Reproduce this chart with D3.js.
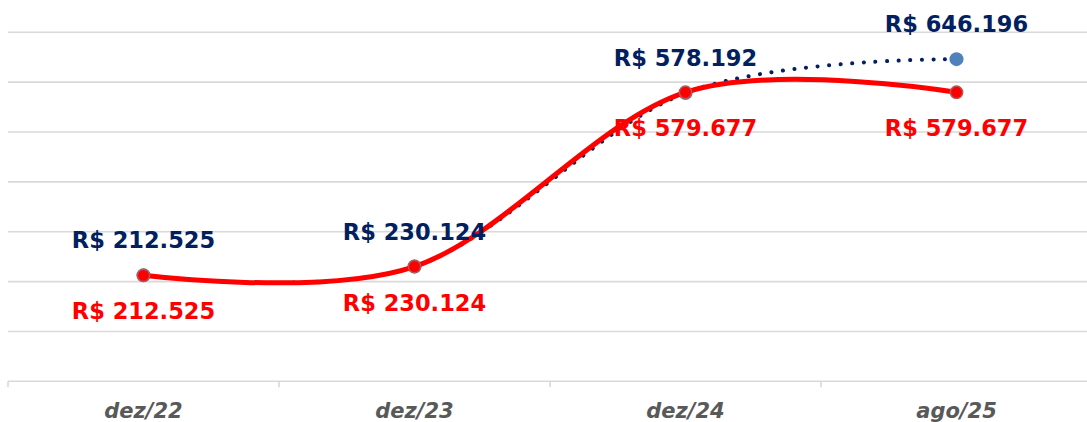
<!DOCTYPE html>
<html>
<head>
<meta charset="utf-8">
<script src="https://cdn.jsdelivr.net/npm/d3@7"></script>
<style>
  body { margin: 0; background: #fff; }
  svg { display: block; }
</style>
</head>
<body>
<script>
// chart data
var categories = ["dez/22", "dez/23", "dez/24", "ago/25"];
var realizado = [212525, 230124, 579677, 579677];   // red, solid
var projetado = [212525, 230124, 578192, 646196];   // navy, dotted
var yTicks = [0, 100000, 200000, 300000, 400000, 500000, 600000, 700000];

var w = 1087, h = 422;

var svg = d3.select("body").append("svg")
  .attr("width", w)
  .attr("height", h);

var x = d3.scaleBand()
  .domain(categories)
  .range([8, 1092]);

var y = d3.scaleLinear()
  .domain([0, 700000])
  .range([381.3, 32.3]);

var fmt = function(v) {  // brazilian style thousands
  return "R$ " + d3.format(",")(v).replace(/,/g, ".");
};

// gridlines
svg.append("g")
  .selectAll("line")
  .data(yTicks.slice(1))
  .enter().append("line")
  .attr("x1", 8).attr("x2", w)
  .attr("y1", function(d) { return y(d); })
  .attr("y2", function(d) { return y(d); })
  .attr("stroke", "#d9d9d9")
  .attr("stroke-width", 1.6);

// x axis
var xAxis = svg.append("g")
  .attr("transform", "translate(0," + y(0) + ")")
  .call(d3.axisBottom(x).tickSize(0).tickPadding(0));
xAxis.select(".domain").remove();
xAxis.selectAll("text").remove();
xAxis.append("line")
  .attr("x1", 8).attr("x2", w)
  .attr("stroke", "#d9d9d9").attr("stroke-width", 1.6);
xAxis.selectAll(".sep")
  .data(categories)
  .enter().append("line")
  .attr("class", "sep")
  .attr("x1", function(d) { return x(d); })
  .attr("x2", function(d) { return x(d); })
  .attr("y1", 0).attr("y2", 6)
  .attr("stroke", "#d9d9d9").attr("stroke-width", 1.6);
xAxis.selectAll(".lbl")
  .data(categories)
  .enter().append("text")
  .attr("class", "lbl")
  .attr("x", function(d) { return x(d) + x.bandwidth() / 2; })
  .attr("y", 37)
  .attr("text-anchor", "middle")
  .attr("font-family", "DejaVu Sans")
  .attr("font-weight", "bold")
  .attr("font-style", "italic")
  .attr("font-size", 21)
  .attr("fill", "#595959")
  .text(function(d) { return d; });

var cx = function(d, i) { return x(categories[i]) + x.bandwidth() / 2; };

var line = d3.line()
  .x(cx)
  .y(function(d) { return y(d); })
  .curve(d3.curveCardinal.tension(0));

// dotted projection line goes under the red one
svg.append("path")
  .datum(projetado)
  .attr("d", line)
  .attr("fill", "none")
  .attr("stroke", "#002060")
  .attr("stroke-width", 4)
  .attr("stroke-linecap", "round")
  .attr("stroke-dasharray", "0.1 11.5");

svg.selectAll(".mProj")
  .data(projetado)
  .enter().append("circle")
  .attr("class", "mProj")
  .attr("cx", cx)
  .attr("cy", function(d) { return y(d); })
  .attr("r", 7)
  .attr("fill", "#4f81bd");

svg.append("path")
  .datum(realizado)
  .attr("d", line)
  .attr("fill", "none")
  .attr("stroke", "#ff0000")
  .attr("stroke-width", 5)
  .attr("stroke-linecap", "round");

svg.selectAll(".mReal")
  .data(realizado)
  .enter().append("circle")
  .attr("class", "mReal")
  .attr("cx", cx)
  .attr("cy", function(d) { return y(d); })
  .attr("r", 6.2)
  .attr("fill", "#ff0000")
  .attr("stroke", "#b05a5a")
  .attr("stroke-width", 1.5);

// value labels
svg.selectAll(".lProj")
  .data(projetado)
  .enter().append("text")
  .attr("class", "lProj")
  .attr("x", cx)
  .attr("y", function(d) { return y(d) - 27; })
  .attr("text-anchor", "middle")
  .attr("font-family", "DejaVu Sans")
  .attr("font-weight", "bold")
  .attr("font-size", 22.5)
  .attr("fill", "#002060")
  .text(fmt);

svg.selectAll(".lReal")
  .data(realizado)
  .enter().append("text")
  .attr("class", "lReal")
  .attr("x", cx)
  .attr("y", function(d) { return y(d) + 44; })
  .attr("text-anchor", "middle")
  .attr("font-family", "DejaVu Sans")
  .attr("font-weight", "bold")
  .attr("font-size", 22.5)
  .attr("fill", "#ff0000")
  .text(fmt);
</script>
</body>
</html>
